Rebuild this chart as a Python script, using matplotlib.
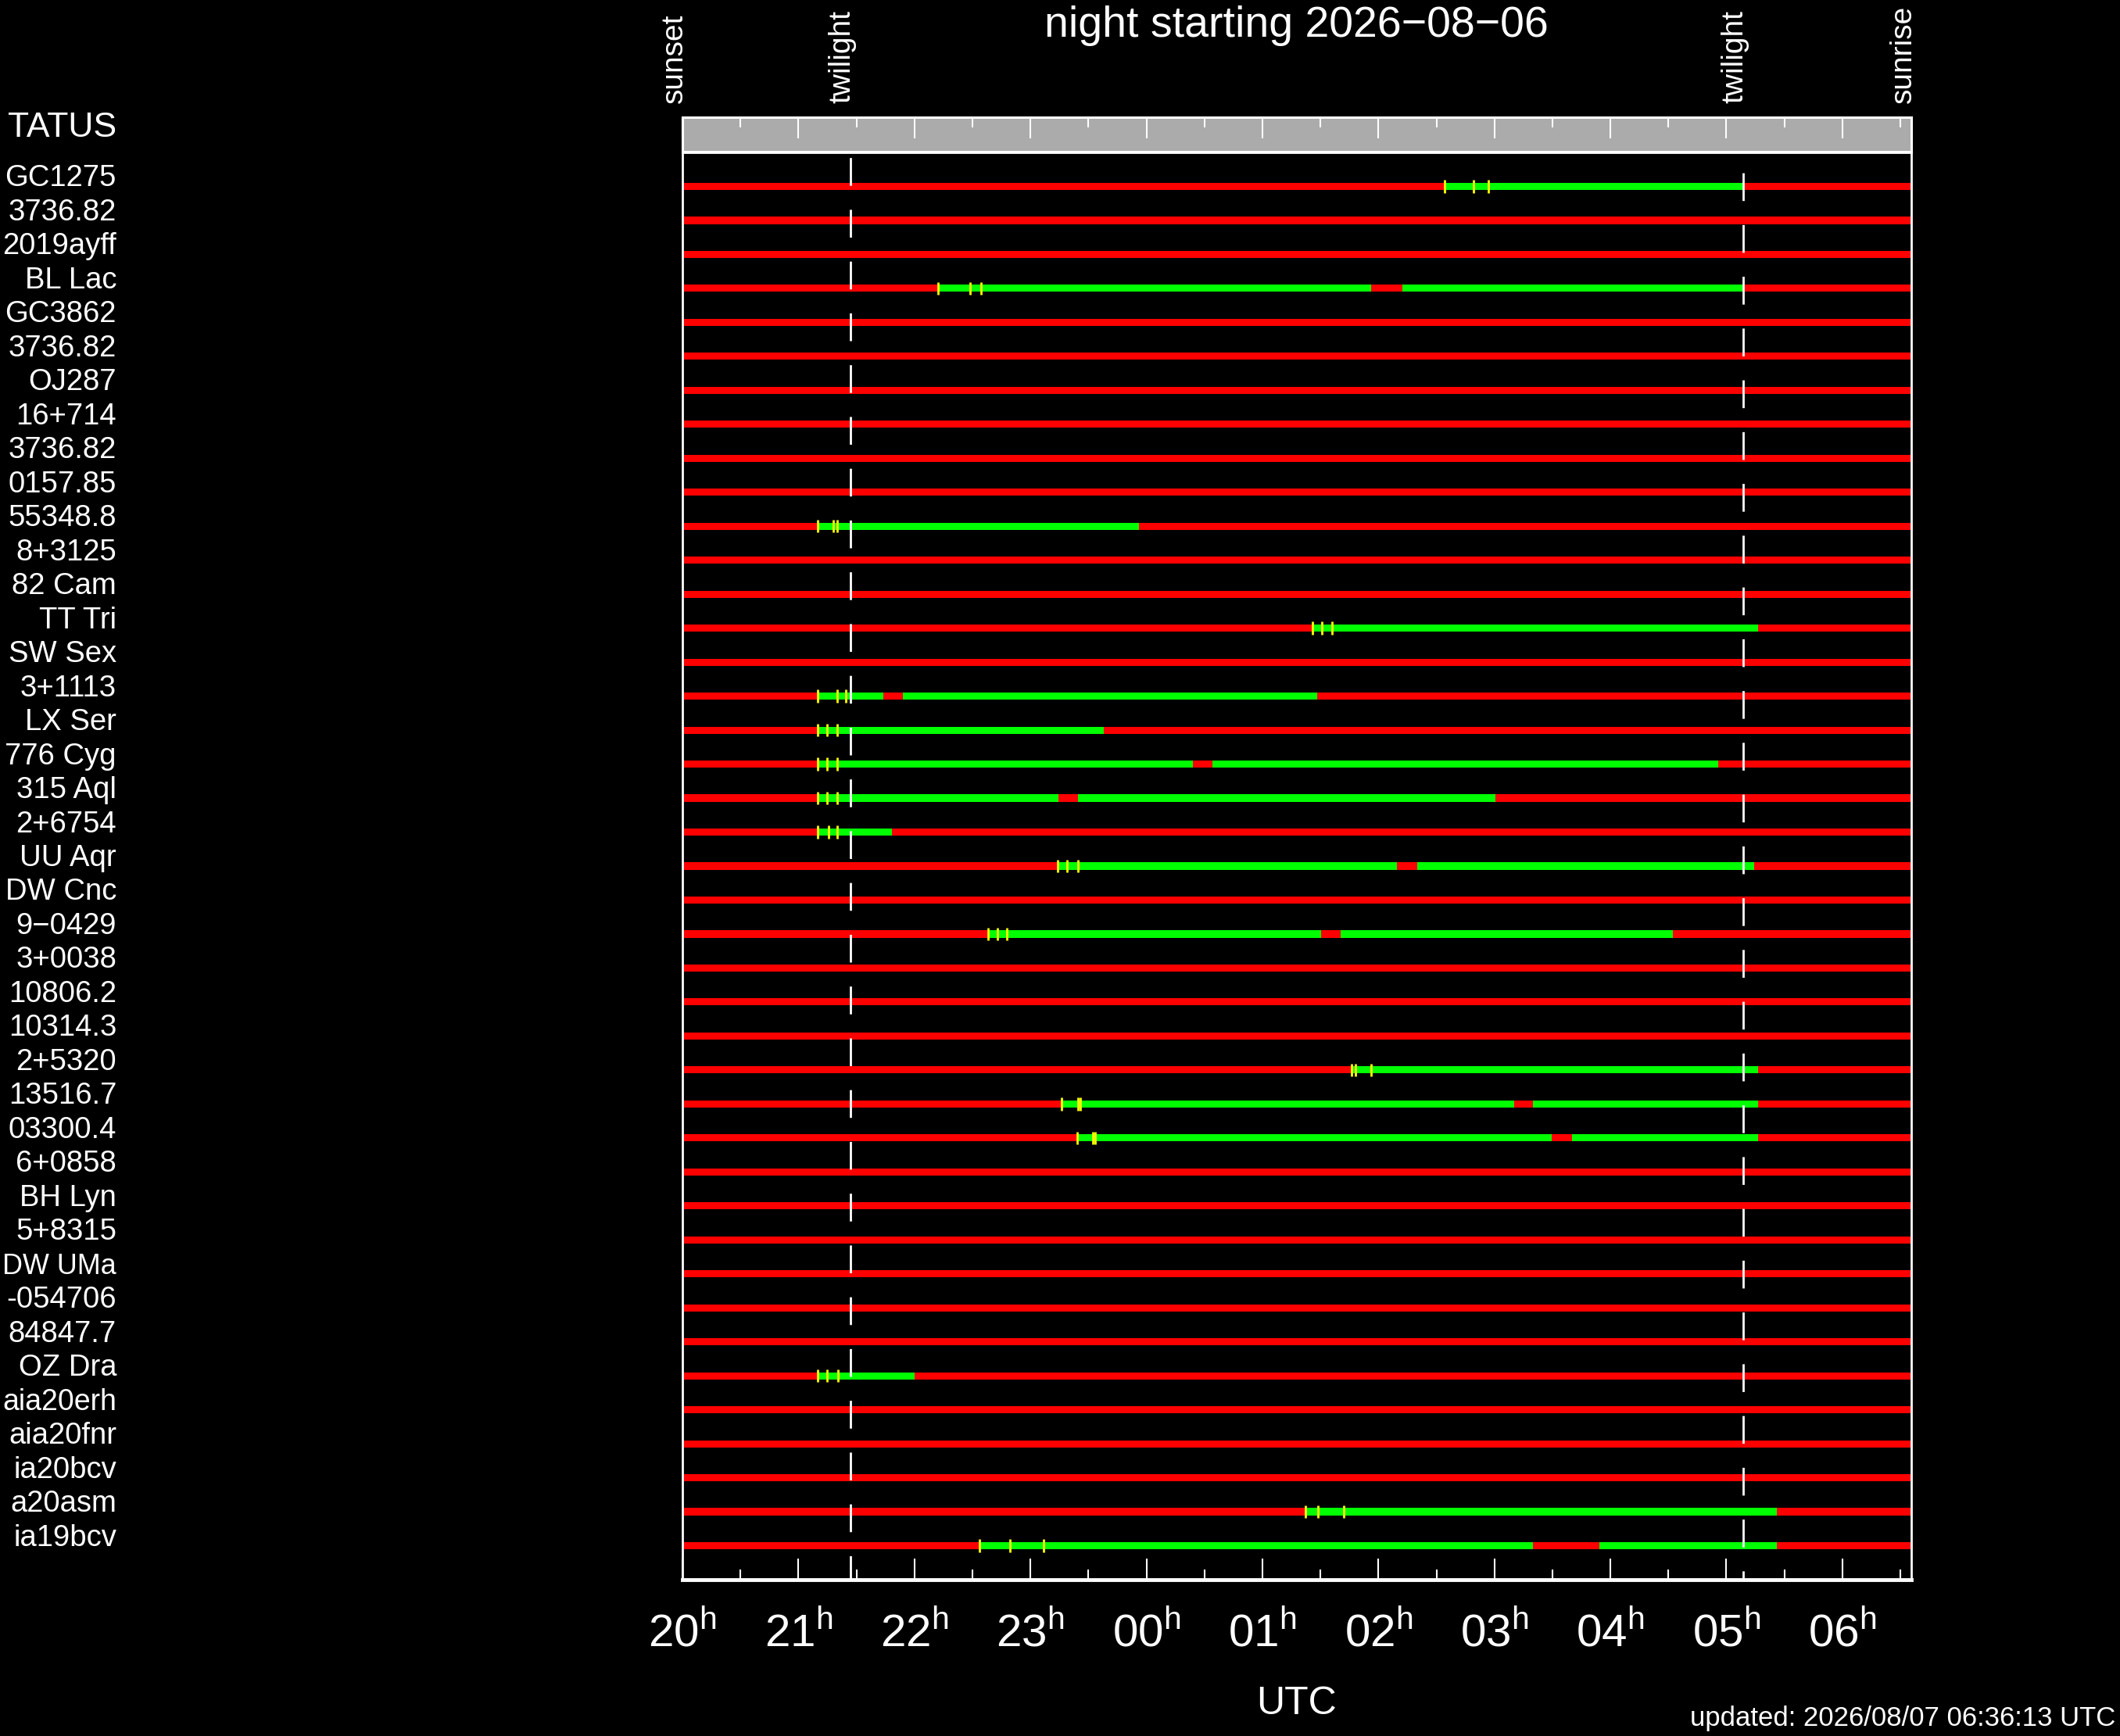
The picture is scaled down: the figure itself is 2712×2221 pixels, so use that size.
import matplotlib
matplotlib.use("Agg")
import matplotlib.pyplot as plt
from matplotlib.transforms import blended_transform_factory

plt.rcParams['font.family'] = ['Liberation Sans', 'DejaVu Sans']
plt.rcParams['mathtext.fontset'] = 'custom'
plt.rcParams['mathtext.rm'] = 'Liberation Sans'
plt.rcParams['lines.scale_dashes'] = False

# night events (UTC hours, past midnight counted as 24+)
sunset = 20.0
twilight_eve = 21.448
twilight_morn = 29.142
sunrise = 30.594
event_times = [sunset, twilight_eve, twilight_morn, sunrise]
event_names = ['sunset', 'twilight', 'twilight', 'sunrise']

# targets, top to bottom (the part of each name that shows in the panel)
header = 'TATUS'
names = [
    'GC1275', '3736.82', '2019ayff', 'BL Lac', 'GC3862',
    '3736.82', 'OJ287', '16+714', '3736.82', '0157.85',
    '55348.8', '8+3125', '82 Cam', 'TT Tri', 'SW Sex',
    '3+1113', 'LX Ser', '776 Cyg', '315 Aql', '2+6754',
    'UU Aqr', 'DW Cnc', '9\u22120429', '3+0038', '10806.2',
    '10314.3', '2+5320', '13516.7', '03300.4', '6+0858',
    'BH Lyn', '5+8315', 'DW UMa', '-054706', '84847.7',
    'OZ Dra', 'aia20erh', 'aia20fnr', 'ia20bcv', 'a20asm',
    'ia19bcv',
]

# observable (green) windows per target, UTC hours
windows = [
    [(26.570, 29.142)], [], [], [(22.203, 25.938), (26.206, 29.145)], [],
    [], [], [], [], [],
    [(21.165, 23.939)], [], [], [(25.430, 29.273)], [],
    [(21.165, 21.729), (21.900, 25.469)], [(21.165, 23.630)],
    [(21.165, 24.401), (24.570, 28.931)], [(21.165, 23.239), (23.407, 27.007)],
    [(21.165, 21.806)],
    [(23.234, 26.162), (26.335, 29.238)], [], [(22.633, 25.504), (25.672, 28.536)], [], [],
    [], [(25.771, 29.273)], [(23.269, 27.171), (27.329, 29.273)],
    [(23.403, 27.497), (27.670, 29.273)], [],
    [], [], [], [], [],
    [(21.163, 22.003)], [], [], [], [(25.370, 29.434)],
    [(22.564, 27.332), (27.902, 29.434)],
]

# yellow markers per target, UTC hours
marks = [
    [26.570, 26.821, 26.950], [], [], [22.203, 22.477, 22.572], [],
    [], [], [], [], [],
    [21.165, 21.304, 21.336], [], [], [25.430, 25.514, 25.598], [],
    [21.165, 21.336, 21.410], [21.165, 21.246, 21.336],
    [21.165, 21.246, 21.336], [21.165, 21.246, 21.336],
    [21.165, 21.262, 21.336],
    [23.234, 23.314, 23.407], [], [22.633, 22.715, 22.796], [], [],
    [], [25.771, 25.801, 25.939], [23.269, 23.407, 23.432],
    [23.403, 23.536, 23.560], [],
    [], [], [], [], [],
    [21.163, 21.245, 21.338], [], [], [], [25.370, 25.478, 25.699],
    [22.564, 22.823, 23.113],
]

hour_ticks = list(range(20, 31))
half_ticks = [h + 0.5 for h in range(20, 31)]

W, H = 2712, 2221
LABEL_RIGHT = 149


def fy(px_from_top):
    return (H - px_from_top) / H


def style_ticks(ax, where):
    ax.set_xticks(hour_ticks)
    ax.set_xticks(half_ticks, minor=True)
    ax.set_yticks([])
    kw = dict(direction='in', color='white', width=1.5)
    if where == 'top':
        ax.tick_params(axis='x', which='both', top=True, bottom=False,
                       labeltop=False, labelbottom=False, **kw)
    else:
        ax.tick_params(axis='x', which='both', top=False, bottom=True, **kw)
    ax.tick_params(axis='x', which='major', length=19.5)
    ax.tick_params(axis='x', which='minor', length=9.5)


def fit_left(fig, texts):
    ## shrink any label that would run off the left edge
    fig.canvas.draw()
    renderer = fig.canvas.get_renderer()
    for t in texts:
        bb = t.get_window_extent(renderer)
        if bb.x0 < 2:
            t.set_fontsize(t.get_fontsize() * (LABEL_RIGHT - 3) / bb.width)


def plot_chart():
    fig = plt.figure(figsize=(W / 100, H / 100), dpi=100, facecolor='black')

    left = 873 / W
    width = (2445 - 873) / W
    ax = fig.add_axes([left, fy(2021), width, fy(195) - fy(2021)], facecolor='black')
    band = fig.add_axes([left, fy(194), width, fy(150) - fy(194)], facecolor='#ababab')

    n = len(names)
    rows = list(range(n))

    ## red background bars
    ax.barh(rows, sunrise - sunset, left=sunset, height=0.21, color='#ff0000', zorder=2)

    ## green windows
    for i, segs in enumerate(windows):
        if segs:
            ax.broken_barh([(a, b - a) for a, b in segs], (i - 0.105, 0.21),
                           facecolor='#00ff00', zorder=3)

    ## yellow markers
    for i, mm in enumerate(marks):
        if mm:
            ax.vlines(mm, i - 0.19, i + 0.19, color='#ffff00', lw=2.0, zorder=4)

    ax.set_xlim(sunset, sunrise)
    ax.set_ylim(n, -1)
    band.set_xlim(sunset, sunrise)
    band.set_ylim(0, 1)

    style_ticks(ax, 'bottom')
    style_ticks(band, 'top')
    ax.set_xticklabels([f'{h % 24:02d}' + r'$^{\rm h}$' for h in hour_ticks],
                       fontsize=42, color='white')
    ax.tick_params(axis='x', which='major', pad=29)

    for s in ax.spines.values():
        s.set_color('white')
        s.set_linewidth(2.0)
    ax.spines['bottom'].set_linewidth(3.5)
    for s in band.spines.values():
        s.set_color('white')
        s.set_linewidth(2.2)

    ## twilight dashed lines through band and main panel
    ytop = (fy(150) - fy(2021)) / (fy(195) - fy(2021))
    xt = ax.get_xaxis_transform()
    for t, off in [(twilight_eve, 10.5), (twilight_morn, 44.2)]:
        ax.plot([t, t], [ytop, 0], transform=xt, color='white', lw=2.0,
                linestyle=(off, (25.6, 22.1)), clip_on=False, zorder=5)

    ## target labels, baseline on the bar
    tr = blended_transform_factory(fig.transFigure, ax.transData)
    label_texts = []
    for i, name in enumerate(names):
        label_texts.append(ax.text(LABEL_RIGHT / W, i, name, transform=tr, color='white',
                                   fontsize=27.5, ha='right', va='baseline', clip_on=False))
    label_texts.append(fig.text(LABEL_RIGHT / W, fy(175), header, color='white',
                                fontsize=32, ha='right', va='baseline'))

    ## event labels above band
    tr2 = blended_transform_factory(ax.transData, fig.transFigure)
    for t, lab in zip(event_times, event_names):
        ax.text(t, fy(132), lab, transform=tr2, color='white', fontsize=28,
                rotation=90, rotation_mode='anchor', ha='left', va='baseline',
                clip_on=False)

    fig.text(1658 / W, fy(47), 'night starting 2026\u221208\u221206', color='white',
             fontsize=40, ha='center', va='baseline')
    fig.text(1658 / W, fy(2193), 'UTC', color='white', fontsize=36,
             ha='center', va='baseline')
    fig.text(2706 / W, fy(2208), 'updated: 2026/08/07 06:36:13 UTC', color='white',
             fontsize=25, ha='right', va='baseline')

    fit_left(fig, label_texts)
    fig.savefig('out.png', dpi=100, facecolor='black')


def main():
    plot_chart()


if __name__ == '__main__':
    main()
